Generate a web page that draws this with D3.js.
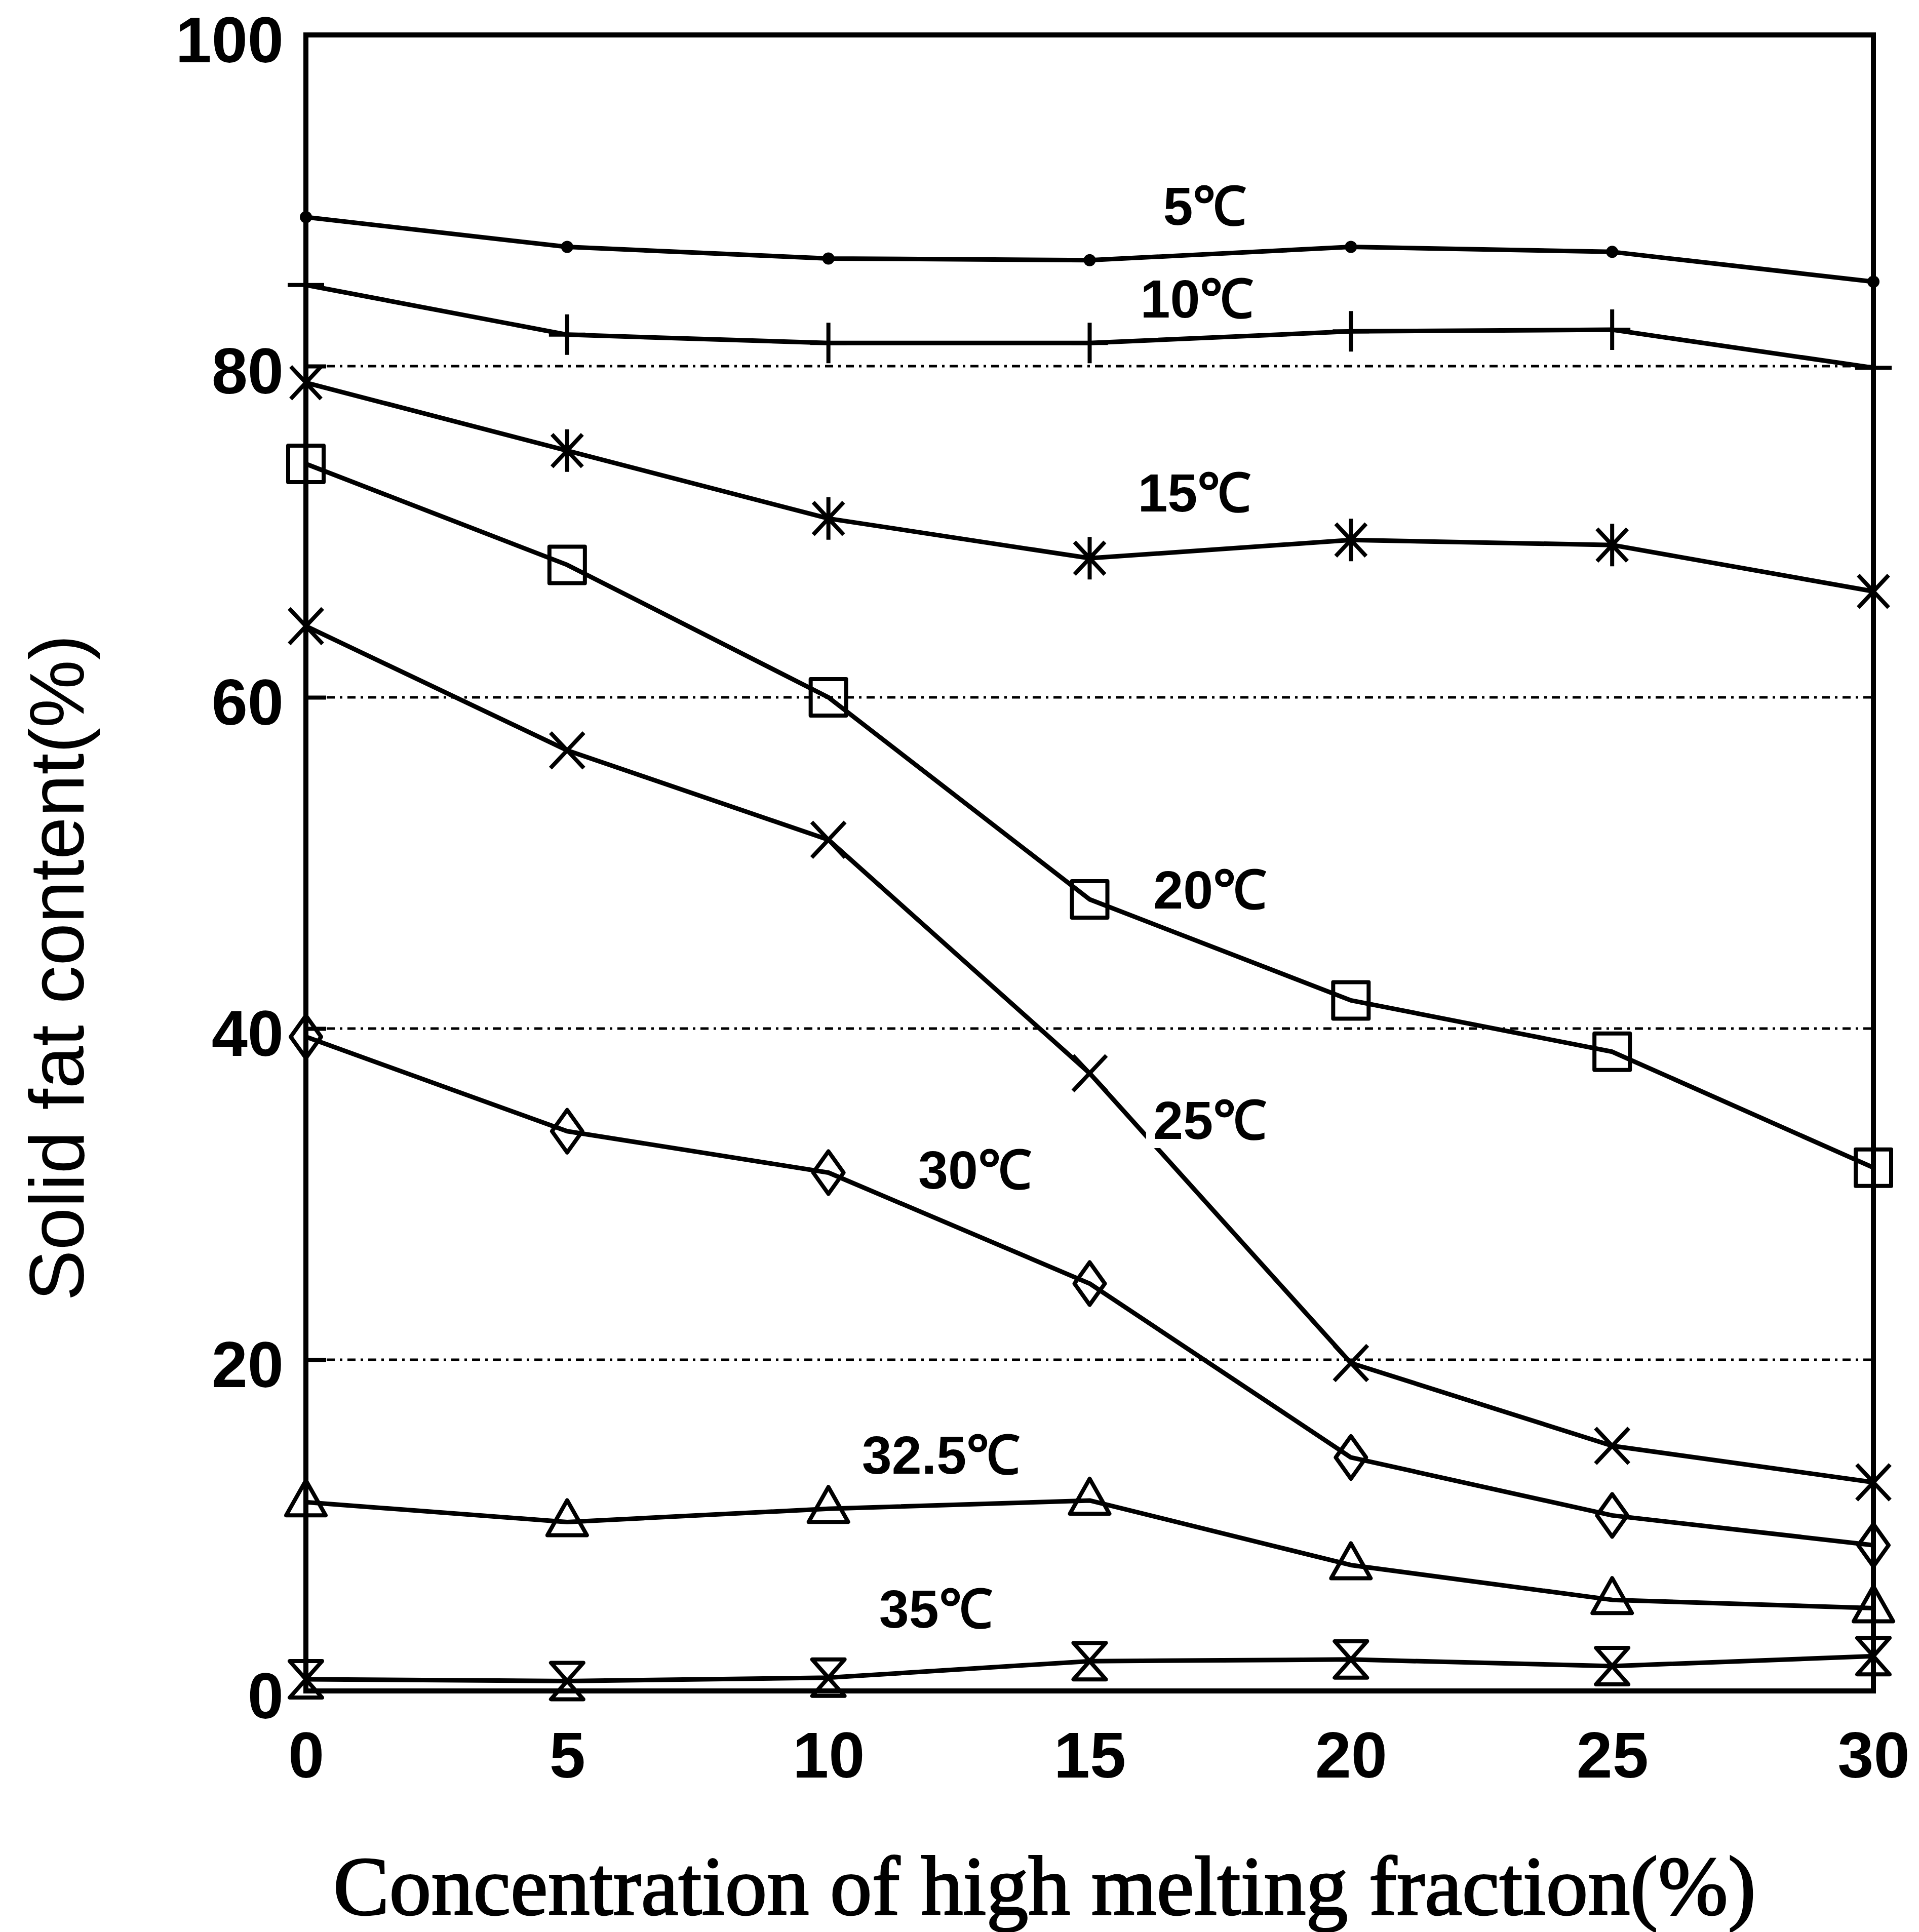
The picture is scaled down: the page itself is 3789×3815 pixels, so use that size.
<!DOCTYPE html>
<html>
<head>
<meta charset="utf-8">
<script src="https://cdn.jsdelivr.net/npm/d3@7"></script>
<style>
  body { margin: 0; background: #fff; }
  svg { display: block; }
</style>
</head>
<body>
<div id="chart-area"></div>
<script>
// concentration of high melting fraction (%)
var concentration = [0, 5, 10, 15, 20, 25, 30];

// solid fat content (%) at each measuring temperature
var sfc5   = [89.0, 87.2, 86.5, 86.4, 87.2, 86.9, 85.1];
var sfc10  = [84.9, 81.9, 81.4, 81.4, 82.1, 82.2, 79.9];
var sfc15  = [79.0, 74.9, 70.8, 68.4, 69.5, 69.2, 66.4];
var sfc20  = [74.1, 68.0, 60.0, 47.8, 41.7, 38.6, 31.6];
var sfc25  = [64.3, 56.8, 51.4, 37.3, 19.8, 14.8, 12.6];
var sfc30  = [39.5, 33.8, 31.3, 24.6, 14.1, 10.6, 8.8];
var sfc325 = [11.4, 10.2, 11.0, 11.5, 7.6, 5.5, 5.0];
var sfc35  = [0.7, 0.6, 0.8, 1.8, 1.9, 1.5, 2.1];

var temperatures = ["5℃", "10℃", "15℃", "20℃", "25℃", "30℃", "32.5℃", "35℃"];

var xTicks = [0, 5, 10, 15, 20, 25, 30];
var yTicks = [0, 20, 40, 60, 80, 100];
var gridValues = [20, 40, 60, 80];

var xTitle = "Concentration of high melting fraction(%)";
var yTitle = "Solid fat content(%)";

var series = [
    { name: temperatures[0], values: sfc5,   marker: "dot" },
    { name: temperatures[1], values: sfc10,  marker: "plus" },
    { name: temperatures[2], values: sfc15,  marker: "asterisk" },
    { name: temperatures[3], values: sfc20,  marker: "square" },
    { name: temperatures[4], values: sfc25,  marker: "cross" },
    { name: temperatures[5], values: sfc30,  marker: "diamond" },
    { name: temperatures[6], values: sfc325, marker: "triangle" },
    { name: temperatures[7], values: sfc35,  marker: "hourglass" }
];

// where each temperature label sits, in data units
var labelSpots = [
    [17.2, 89.7], [17.05, 84.1], [17.0, 72.4], [17.3, 48.4],
    [17.3, 34.5], [12.8, 31.5], [12.15, 14.3], [12.05, 5.0]
];

var W = 3789, H = 3815;
var margin = { top: 69, bottom: 476, left: 604, right: 90 };
var width  = W - margin.left - margin.right;
var height = H - margin.top  - margin.bottom;

var svg = d3.select("#chart-area")
    .append("svg")
        .attr("width", W)
        .attr("height", H);

var g = svg.append("g")
    .attr("transform", "translate(" + margin.left + ", " + margin.top + ")");

var x = d3.scaleLinear().domain([0, 30]).range([0, width]);
var y = d3.scaleLinear().domain([0, 100]).range([height, 0]);

// dash-dot grid
g.selectAll(".grid")
    .data(gridValues)
    .enter()
    .append("line")
        .attr("class", "grid")
        .attr("x1", 0)
        .attr("x2", width)
        .attr("y1", function(d) { return y(d); })
        .attr("y2", function(d) { return y(d); })
        .attr("stroke", "#000")
        .attr("stroke-width", 5)
        .attr("stroke-dasharray", "16 10 5 10");

// axes
var yAxisCall = d3.axisLeft(y)
    .tickValues(yTicks)
    .tickSizeInner(-40)
    .tickSizeOuter(0)
    .tickPadding(44);

var yAxis = g.append("g")
    .attr("class", "y-axis")
    .call(yAxisCall);
yAxis.select(".domain").remove();
yAxis.selectAll("line").attr("stroke-width", 8);
yAxis.selectAll("text")
    .attr("dy", "0.42em")
    .attr("font-family", "'Liberation Sans', Arial, sans-serif")
    .attr("font-weight", "bold")
    .attr("font-size", "128px")
    .attr("fill", "#000");

var xAxisCall = d3.axisBottom(x)
    .tickValues(xTicks)
    .tickSize(0)
    .tickPadding(80);

var xAxis = g.append("g")
    .attr("class", "x-axis")
    .attr("transform", "translate(0, " + height + ")")
    .call(xAxisCall);
xAxis.select(".domain").remove();
xAxis.selectAll("text")
    .attr("font-family", "'Liberation Sans', Arial, sans-serif")
    .attr("font-weight", "bold")
    .attr("font-size", "128px")
    .attr("fill", "#000");

// frame
g.append("rect")
    .attr("x", 0)
    .attr("y", 0)
    .attr("width", width)
    .attr("height", height)
    .attr("fill", "none")
    .attr("stroke", "#000")
    .attr("stroke-width", 10);

// axis titles
g.append("text")
    .attr("x", (658 + 3467) / 2 - margin.left)
    .attr("y", 3780 - margin.top)
    .attr("text-anchor", "middle")
    .attr("font-family", "'Liberation Serif', 'Times New Roman', serif")
    .attr("font-size", "166px")
    .attr("stroke", "#000")
    .attr("stroke-width", 3)
    .attr("textLength", 2809)
    .attr("lengthAdjust", "spacingAndGlyphs")
    .text(xTitle);

g.append("text")
    .attr("transform", "translate(" + (165 - margin.left) + ", " + (1911 - margin.top) + ") rotate(-90)")
    .attr("text-anchor", "middle")
    .attr("font-family", "'Liberation Sans', Arial, sans-serif")
    .attr("font-size", "152px")
    .attr("textLength", 1316)
    .attr("lengthAdjust", "spacingAndGlyphs")
    .text(yTitle);

// marker outlines, centred on the point
var markerPaths = {
    plus:      "M0,-40V40M-36,0H36",
    asterisk:  "M0,-42V42M-30,-32L30,32M30,-32L-30,32",
    square:    "M-35,-36H35V36H-35Z",
    cross:     "M-33,-35L33,35M33,-35L-33,35",
    diamond:   "M0,-42L30,0L0,42L-30,0Z",
    triangle:  "M0,-43L39,26L-39,26Z",
    hourglass: "M-32,-36H32L-32,36H32Z"
};

var line = d3.line()
    .x(function(d, i) { return x(concentration[i]); })
    .y(function(d) { return y(d); });

var lines = g.selectAll(".series")
    .data(series)
    .enter()
    .append("g")
        .attr("class", "series");

lines.append("path")
    .attr("d", function(s) { return line(s.values); })
    .attr("fill", "none")
    .attr("stroke", "#000")
    .attr("stroke-width", 9)
    .attr("stroke-linejoin", "round");

lines.each(function(s) {
    var pts = d3.select(this).selectAll(".pt")
        .data(s.values)
        .enter();

    if (s.marker === "dot") {
        pts.append("circle")
            .attr("cx", function(d, i) { return x(concentration[i]); })
            .attr("cy", function(d) { return y(d); })
            .attr("r", 12)
            .attr("fill", "#000");
    } else {
        pts.append("path")
            .attr("transform", function(d, i) {
                return "translate(" + x(concentration[i]) + ", " + y(d) + ")";
            })
            .attr("d", markerPaths[s.marker])
            .attr("fill", "none")
            .attr("stroke", "#000")
            .attr("stroke-width", 8)
            .attr("stroke-linejoin", "round");
    }
});

// temperature labels with a white halo
g.selectAll(".temp-label")
    .data(series)
    .enter()
    .append("text")
        .attr("class", "temp-label")
        .attr("x", function(s, i) { return x(labelSpots[i][0]); })
        .attr("y", function(s, i) { return y(labelSpots[i][1]); })
        .attr("dy", "0.36em")
        .attr("text-anchor", "middle")
        .attr("font-family", "'Liberation Sans', Arial, sans-serif")
        .attr("font-weight", "bold")
        .attr("font-size", "106px")
        .attr("fill", "#000")
        .attr("stroke", "#fff")
        .attr("stroke-width", 36)
        .attr("paint-order", "stroke")
        .text(function(s) { return s.name; });
</script>
</body>
</html>
